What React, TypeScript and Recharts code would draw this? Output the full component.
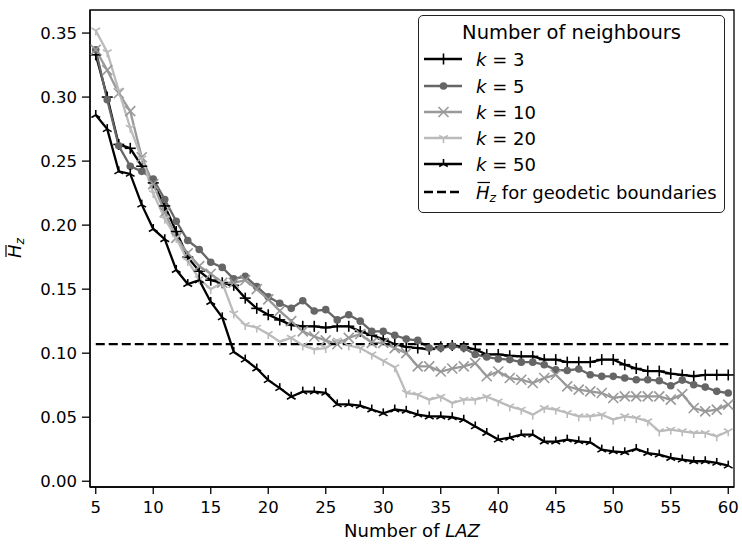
import React from "react";
import { LineChart, Line, XAxis, YAxis, Legend, ReferenceArea } from "recharts";

const LAZ = [5, 6, 7, 8, 9, 10, 11, 12, 13, 14, 15, 16, 17, 18, 19, 20, 21, 22, 23, 24, 25, 26, 27, 28, 29, 30, 31, 32, 33, 34, 35, 36, 37, 38, 39, 40, 41, 42, 43, 44, 45, 46, 47, 48, 49, 50, 51, 52, 53, 54, 55, 56, 57, 58, 59, 60];

const K3 = [0.333, 0.300, 0.263, 0.260, 0.246, 0.233, 0.215, 0.195, 0.175, 0.164,
  0.157, 0.155, 0.153, 0.143, 0.135, 0.130, 0.126, 0.122, 0.121, 0.121,
  0.120, 0.121, 0.121, 0.117, 0.114, 0.111, 0.107, 0.105, 0.104, 0.103,
  0.105, 0.106, 0.105, 0.103, 0.099, 0.099, 0.098, 0.0975, 0.0975, 0.095,
  0.095, 0.093, 0.093, 0.093, 0.095, 0.095, 0.091, 0.088, 0.086, 0.086,
  0.084, 0.083, 0.082, 0.083, 0.083, 0.083];

const K5 = [0.337, 0.298, 0.262, 0.246, 0.242, 0.236, 0.220, 0.203, 0.188, 0.181,
  0.171, 0.167, 0.158, 0.160, 0.152, 0.144, 0.139, 0.135, 0.141, 0.133,
  0.134, 0.126, 0.130, 0.125, 0.117, 0.117, 0.114, 0.111, 0.110, 0.104,
  0.104, 0.1055, 0.104, 0.099, 0.097, 0.0955, 0.095, 0.093, 0.093, 0.091,
  0.087, 0.0865, 0.0877, 0.0832, 0.0819, 0.0819, 0.0806, 0.0793, 0.0793, 0.0785,
  0.0746, 0.079, 0.0754, 0.0735, 0.0702, 0.0689];

const K10 = [0.337, 0.321, 0.303, 0.289, 0.253, 0.232, 0.210, 0.190, 0.178, 0.168,
  0.162, 0.155, 0.155, 0.157, 0.150, 0.142, 0.133, 0.125, 0.117, 0.113,
  0.110, 0.107, 0.112, 0.115, 0.108, 0.108, 0.104, 0.100, 0.0897, 0.0897,
  0.0857, 0.088, 0.0897, 0.0922, 0.082, 0.0857, 0.0806, 0.0793, 0.0767, 0.0806,
  0.0832, 0.0741, 0.0715, 0.0702, 0.0689, 0.065, 0.0663, 0.0663, 0.0663, 0.0663,
  0.0637, 0.068, 0.0572, 0.0546, 0.0559, 0.0598];

const K20 = [0.352, 0.335, 0.305, 0.276, 0.252, 0.225, 0.205, 0.190, 0.172, 0.158,
  0.150, 0.155, 0.131, 0.122, 0.120, 0.115, 0.109, 0.112, 0.106, 0.103,
  0.104, 0.110, 0.106, 0.104, 0.099, 0.094, 0.089, 0.069, 0.0676, 0.0637,
  0.066, 0.0611, 0.0637, 0.0637, 0.066, 0.0624, 0.0585, 0.0559, 0.052, 0.0572,
  0.0559, 0.0533, 0.0507, 0.0507, 0.052, 0.0481, 0.0507, 0.0494, 0.0468, 0.039,
  0.0403, 0.039, 0.0377, 0.0377, 0.0351, 0.039];

const K50 = [0.286, 0.275, 0.242, 0.240, 0.216, 0.197, 0.189, 0.165, 0.154, 0.157,
  0.140, 0.128, 0.101, 0.095, 0.088, 0.079, 0.0727, 0.066, 0.070, 0.070,
  0.069, 0.060, 0.060, 0.059, 0.056, 0.053, 0.056, 0.055, 0.052, 0.0506,
  0.0506, 0.050, 0.048, 0.0428, 0.0377, 0.0325, 0.034, 0.0364, 0.0364, 0.031,
  0.031, 0.0325, 0.0312, 0.0304, 0.0247, 0.0234, 0.0226, 0.0252, 0.022, 0.0208,
  0.0182, 0.0169, 0.0156, 0.0156, 0.0143, 0.0122];

const GEO = 0.107;

const X_TICKS = [5, 10, 15, 20, 25, 30, 35, 40, 45, 50, 55, 60];
const Y_TICKS = [0, 0.05, 0.1, 0.15, 0.2, 0.25, 0.3, 0.35];
const X_DOMAIN = [4.5, 60.5];
const Y_DOMAIN = [-0.0045, 0.368];

const data = LAZ.map((n, i) => ({
  n,
  k3: K3[i],
  k5: K5[i],
  k10: K10[i],
  k20: K20[i],
  k50: K50[i],
  geo: GEO,
}));

const FONT = "DejaVu Sans";
const C3 = "#000000";
const C5 = "#666666";
const C10 = "#999999";
const C20 = "#bbbbbb";
const C50 = "#000000";
const LW = 2.3;

type Kind = "plus" | "circle" | "x" | "tridown" | "triup";

function drawMarker(kind: Kind, color: string, cx: number, cy: number, key?: string) {
  const sw = 1.6;
  switch (kind) {
    case "plus": {
      const s = 5.5;
      return (
        <g key={key}>
          <line x1={cx - s} y1={cy} x2={cx + s} y2={cy} stroke={color} strokeWidth={sw} />
          <line x1={cx} y1={cy - s} x2={cx} y2={cy + s} stroke={color} strokeWidth={sw} />
        </g>
      );
    }
    case "circle":
      return <circle key={key} cx={cx} cy={cy} r={3.8} fill={color} stroke="none" />;
    case "x": {
      const s = 5;
      return (
        <g key={key}>
          <line x1={cx - s} y1={cy - s} x2={cx + s} y2={cy + s} stroke={color} strokeWidth={sw} />
          <line x1={cx - s} y1={cy + s} x2={cx + s} y2={cy - s} stroke={color} strokeWidth={sw} />
        </g>
      );
    }
    case "tridown": {
      const s = 5;
      return (
        <g key={key}>
          <line x1={cx} y1={cy} x2={cx} y2={cy + s} stroke={color} strokeWidth={sw} />
          <line x1={cx} y1={cy} x2={cx - s * 0.87} y2={cy - s * 0.5} stroke={color} strokeWidth={sw} />
          <line x1={cx} y1={cy} x2={cx + s * 0.87} y2={cy - s * 0.5} stroke={color} strokeWidth={sw} />
        </g>
      );
    }
    case "triup":
    default: {
      const s = 5;
      return (
        <g key={key}>
          <line x1={cx} y1={cy} x2={cx} y2={cy - s} stroke={color} strokeWidth={sw} />
          <line x1={cx} y1={cy} x2={cx - s * 0.87} y2={cy + s * 0.5} stroke={color} strokeWidth={sw} />
          <line x1={cx} y1={cy} x2={cx + s * 0.87} y2={cy + s * 0.5} stroke={color} strokeWidth={sw} />
        </g>
      );
    }
  }
}

const makeDot = (kind: Kind, color: string) => (props: any) => {
  const { cx, cy, index } = props;
  const key = `${kind}-${color}-${index}`;
  if (cx == null || cy == null) return <g key={key} />;
  return drawMarker(kind, color, cx, cy, key);
};

const SERIES: { key: string; k: string; color: string; kind: Kind }[] = [
  { key: "k3", k: "3", color: C3, kind: "plus" },
  { key: "k5", k: "5", color: C5, kind: "circle" },
  { key: "k10", k: "10", color: C10, kind: "x" },
  { key: "k20", k: "20", color: C20, kind: "tridown" },
  { key: "k50", k: "50", color: C50, kind: "triup" },
];

const LEG_W = 307;
const LEG_H = 198;
const ROWS = [44, 71, 97, 123, 149, 177];

const LegendBox = () => (
  <div
    style={{
      width: LEG_W,
      height: LEG_H,
      border: "1.5px solid #222",
      borderRadius: 5,
      boxSizing: "border-box",
      background: "#fff",
      position: "relative",
    }}
  >
    <svg
      width={LEG_W}
      height={LEG_H}
      style={{ position: "absolute", left: -1.5, top: -1.5, fontFamily: FONT }}
    >
      <text x={LEG_W / 2} y={23.5} textAnchor="middle" fontSize={19.5} fill="#000">
        Number of neighbours
      </text>
      {SERIES.map((s, i) => (
        <g key={s.key}>
          <line x1={6} y1={ROWS[i]} x2={44} y2={ROWS[i]} stroke={s.color} strokeWidth={LW} />
          {drawMarker(s.kind, s.color, 25.5, ROWS[i])}
          <text x={58} y={ROWS[i] + 6.5} fontSize={18} fill="#000">
            <tspan fontStyle="italic">k</tspan>
            <tspan> = {s.k}</tspan>
          </text>
        </g>
      ))}
      <line x1={6} y1={ROWS[5]} x2={44} y2={ROWS[5]} stroke="#000" strokeWidth={LW} strokeDasharray="9 4" />
      <line x1={59.5} y1={ROWS[5] - 9.5} x2={72} y2={ROWS[5] - 9.5} stroke="#000" strokeWidth={1.2} />
      <text x={58} y={ROWS[5] + 6.5} fontSize={18} fill="#000">
        <tspan fontStyle="italic">H</tspan>
        <tspan fontStyle="italic" fontSize={12.5} dy={3}>z</tspan>
        <tspan dy={-3}> for geodetic boundaries</tspan>
      </text>
    </svg>
  </div>
);

const YLabel = () => (
  <g transform="translate(21, 248) rotate(-90)">
    <line x1={-9} y1={-15} x2={3} y2={-15} stroke="#000" strokeWidth={1.2} />
    <text x={-10} y={0} fontSize={18} fontFamily={FONT} fill="#000">
      <tspan fontStyle="italic">H</tspan>
      <tspan fontStyle="italic" fontSize={12.5} dy={3}>z</tspan>
    </text>
  </g>
);

const XLabel = () => (
  <text x={412} y={537} textAnchor="middle" fontSize={18} fontFamily={FONT} fill="#000">
    <tspan>Number of </tspan>
    <tspan fontStyle="italic">LAZ</tspan>
  </text>
);

export default function App() {
  return (
    <div style={{ position: "absolute", left: 0, top: 0, background: "#fff" }}>
      <LineChart
        width={742}
        height={544}
        data={data}
        margin={{ top: 10, right: 8, left: 0, bottom: 0 }}
        style={{ fontFamily: FONT }}
      >
        <XAxis
          dataKey="n"
          type="number"
          domain={X_DOMAIN}
          ticks={X_TICKS}
          allowDataOverflow
          height={57}
          tickSize={7}
          tickMargin={7}
          stroke="#000"
          strokeWidth={1.3}
          tick={{ fontSize: 16.5, fill: "#000", fontFamily: FONT }}
          tickLine={{ stroke: "#000", strokeWidth: 1.3 }}
          label={<XLabel />}
        />
        <YAxis
          type="number"
          domain={Y_DOMAIN}
          ticks={Y_TICKS}
          allowDataOverflow
          width={90}
          tickSize={8}
          tickMargin={5}
          stroke="#000"
          strokeWidth={1.3}
          tickFormatter={(v: number) => v.toFixed(2)}
          tick={{ fontSize: 16.5, fill: "#000", fontFamily: FONT }}
          tickLine={{ stroke: "#000", strokeWidth: 1.3 }}
          label={<YLabel />}
        />
        <ReferenceArea
          x1={X_DOMAIN[0]}
          x2={X_DOMAIN[1]}
          y1={Y_DOMAIN[0]}
          y2={Y_DOMAIN[1]}
          fill="none"
          fillOpacity={0}
          stroke="#000"
          strokeWidth={1.3}
          ifOverflow="visible"
        />
        {SERIES.map((s) => (
          <Line
            key={s.key}
            type="linear"
            dataKey={s.key}
            stroke={s.color}
            strokeWidth={LW}
            dot={makeDot(s.kind, s.color)}
            activeDot={false}
            isAnimationActive={false}
          />
        ))}
        <Line
          type="linear"
          dataKey="geo"
          stroke="#000"
          strokeWidth={LW}
          strokeDasharray="9 4"
          dot={false}
          activeDot={false}
          isAnimationActive={false}
        />
        <Legend
          layout="vertical"
          align="center"
          verticalAlign="middle"
          wrapperStyle={{ left: 418, top: 15, width: LEG_W, height: LEG_H }}
          content={() => <LegendBox />}
        />
      </LineChart>
    </div>
  );
}
